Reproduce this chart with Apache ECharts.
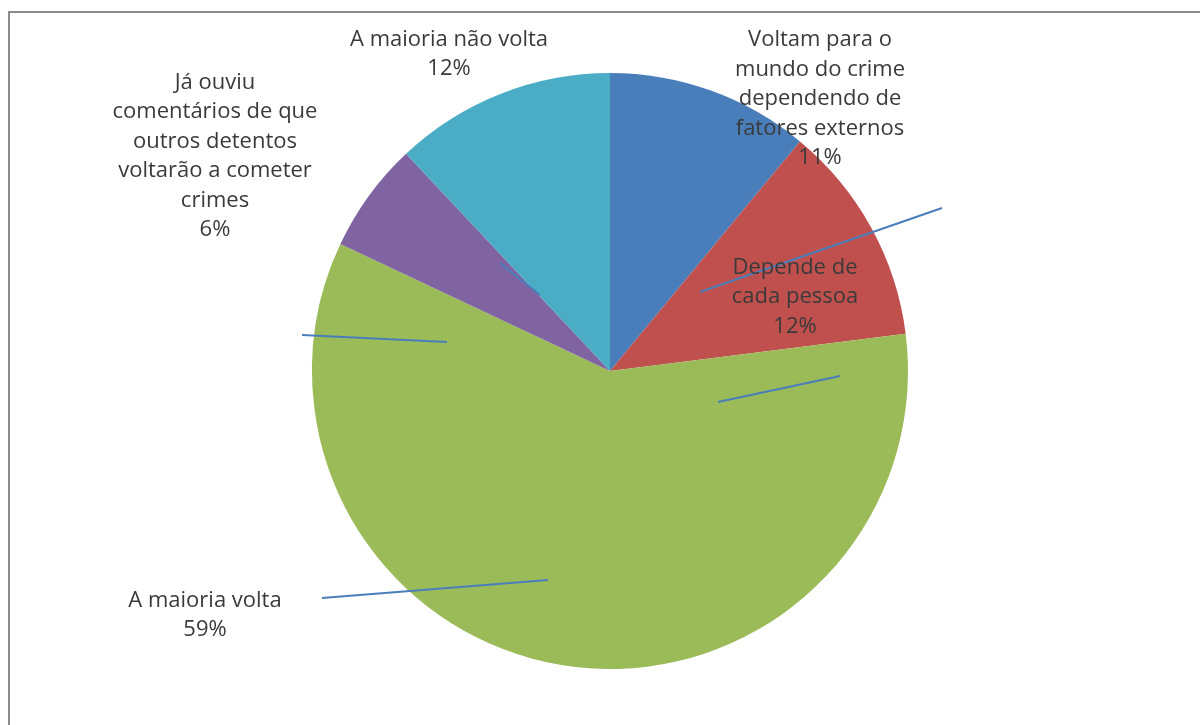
<!DOCTYPE html>
<html>
<head>
<meta charset="utf-8">
<script src="https://cdn.jsdelivr.net/npm/echarts@6/dist/echarts.min.js"></script>
<style>
html,body{margin:0;padding:0;background:#fff;}
#chart{width:1200px;height:725px;}
</style>
</head>
<body>
<div id="chart"></div>
<script>
// Data
const categories = [
  'Voltam para o\nmundo do crime\ndependendo de\nfatores externos',
  'Depende de\ncada pessoa',
  'A maioria volta',
  'Já ouviu\ncomentários de que\noutros detentos\nvoltarão a cometer\ncrimes',
  'A maioria não volta'
];
const values = [11, 12, 59, 6, 12];
const colors = ['#4A7EBB', '#C0504D', '#9BBB59', '#8064A2', '#4BACC6'];

// Label placement (layout, in px): label centre + leader line ends
const labelPlacement = [
  { x: 820, y: 99,  line: [[942, 208], [700, 292]] },
  { x: 795, y: 297, line: [[840, 376], [718, 402]] },
  { x: 205, y: 615, line: [[322, 598], [548, 580]] },
  { x: 215, y: 156, line: [[302, 335], [447, 342]] },
  { x: 449, y: 54,  line: [[500, 263], [540, 295]] }
];

const common = {
  type: 'pie',
  center: [610, 371],
  radius: 298,
  startAngle: 90,
  clockwise: true,
  emphasis: { disabled: true },
  silent: true
};

const chart = echarts.init(document.getElementById('chart'));
chart.setOption({
  animation: false,
  backgroundColor: '#fff',
  graphic: [{
    type: 'polyline',
    shape: { points: [[9, 725], [9, 12], [1200, 12]] },
    style: { stroke: '#8c8c8c', lineWidth: 2, fill: null },
    silent: true
  }],
  series: [
    Object.assign({}, common, {
      z: 2,
      data: categories.map((c, i) => ({ name: c, value: values[i], itemStyle: { color: colors[i] } })),
      label: { show: false },
      labelLine: { show: false }
    }),
    Object.assign({}, common, {
      z: 5,
      data: categories.map((c, i) => ({ name: c, value: values[i] })),
      itemStyle: { color: 'rgba(0,0,0,0)' },
      label: {
        show: true,
        position: 'outside',
        formatter: p => p.name + '\n' + p.value + '%',
        fontFamily: 'Open Sans',
        fontSize: 22,
        lineHeight: 29.5,
        color: '#3a3a3a',
        align: 'center'
      },
      labelLine: {
        show: true,
        lineStyle: { color: '#4A7EBB', width: 2 }
      },
      labelLayout: function (params) {
        const p = labelPlacement[params.dataIndex];
        const a = p.line[0], b = p.line[1];
        return {
          x: p.x,
          y: p.y,
          align: 'center',
          verticalAlign: 'middle',
          labelLinePoints: [a, [(a[0] + b[0]) / 2, (a[1] + b[1]) / 2], b]
        };
      }
    })
  ]
});
</script>
</body>
</html>
